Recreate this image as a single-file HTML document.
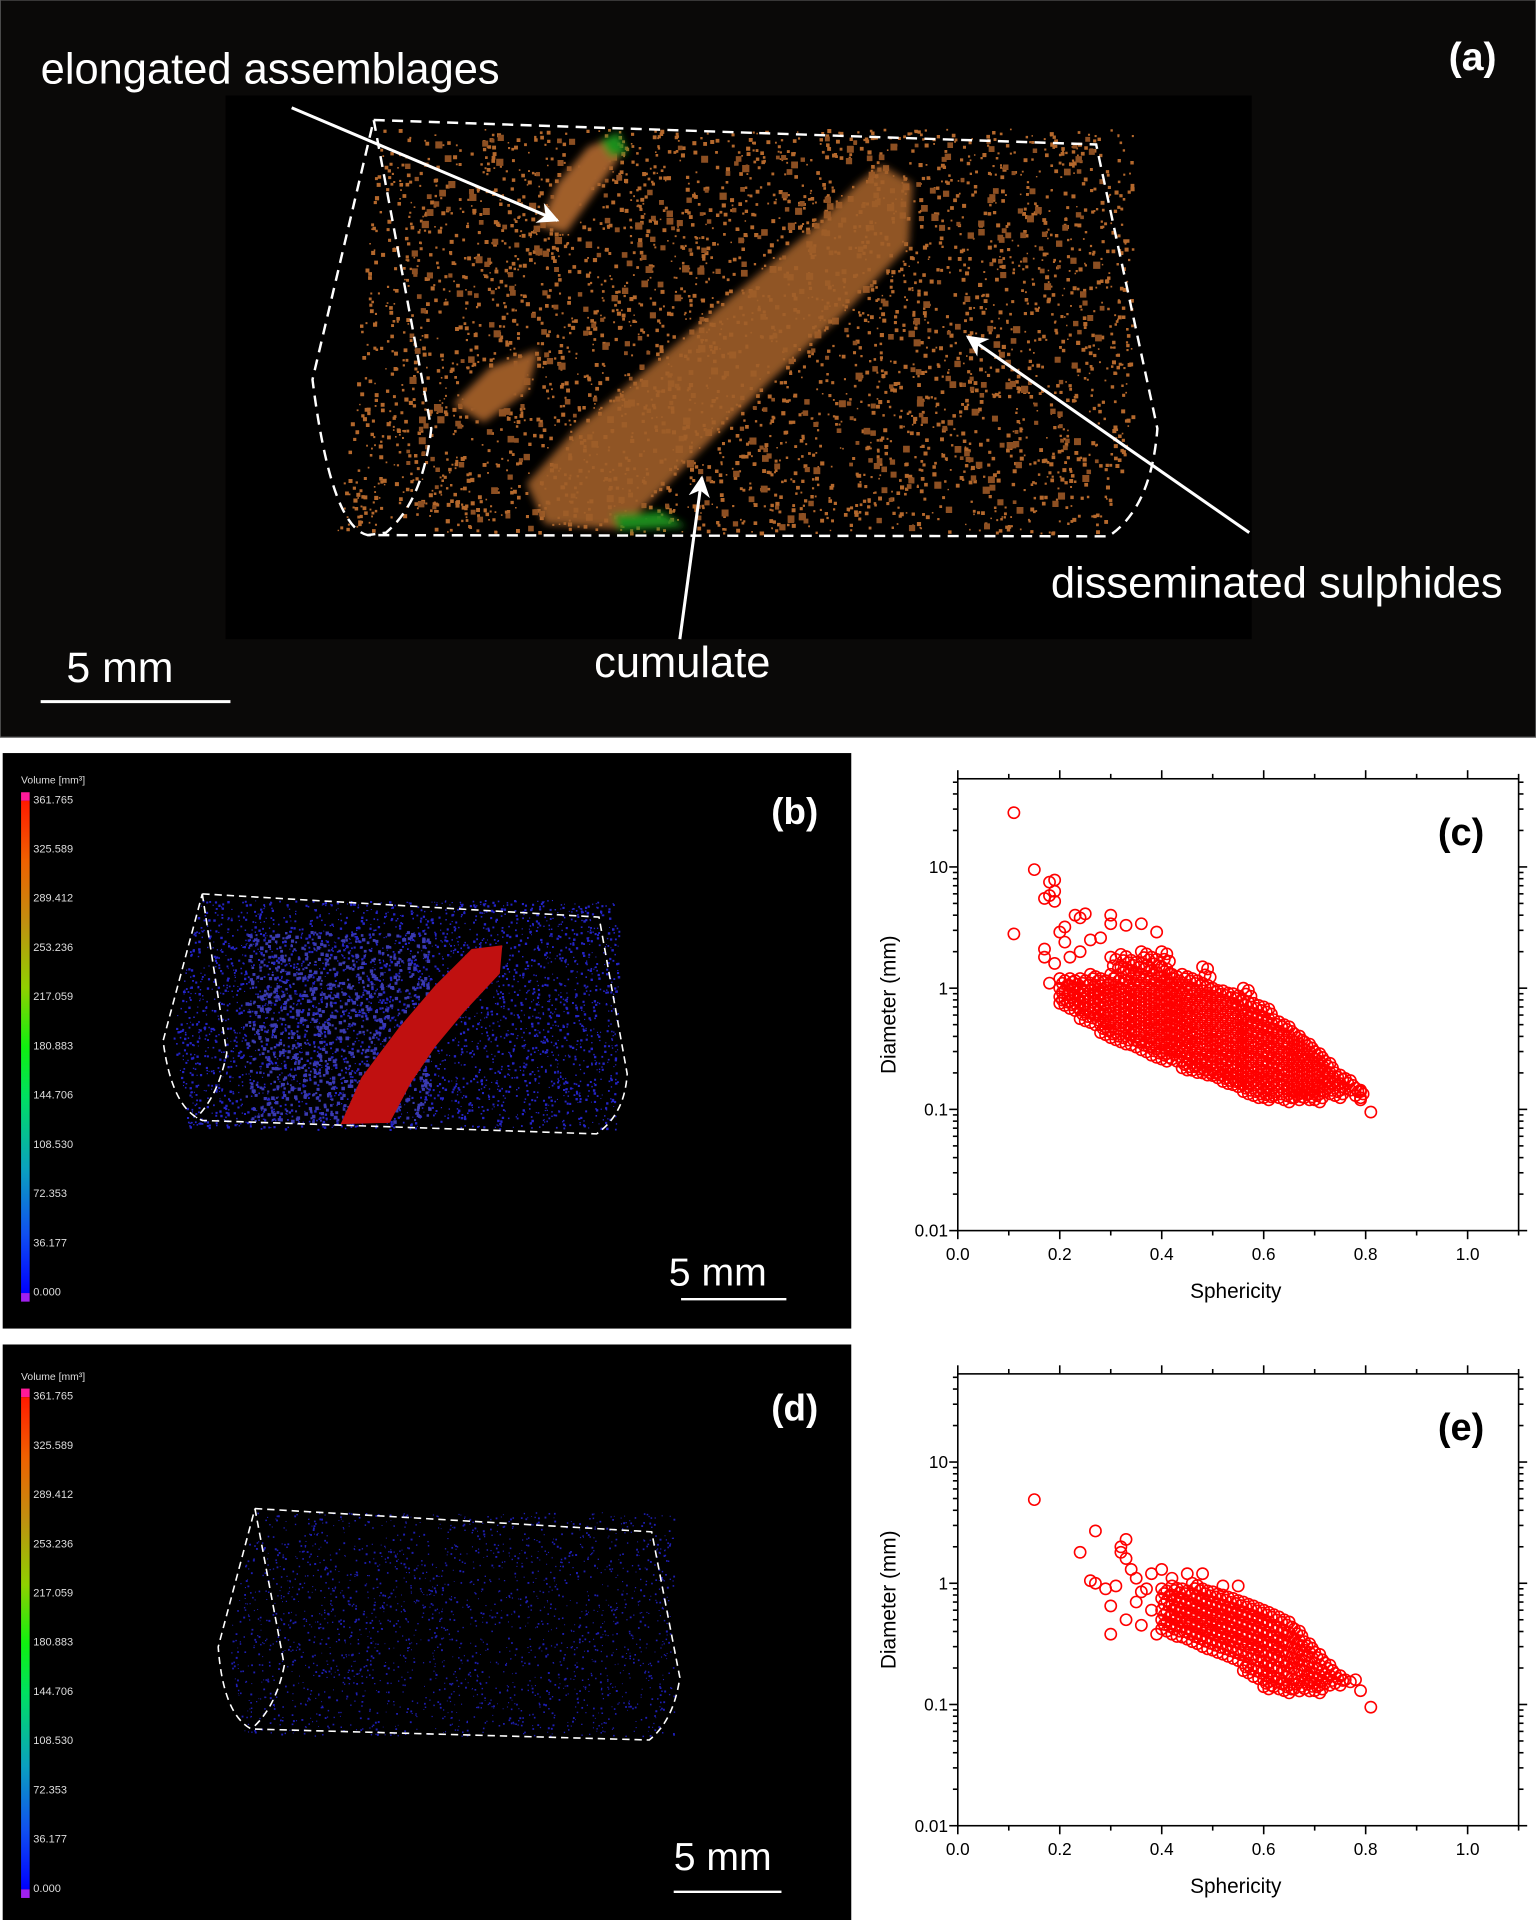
<!DOCTYPE html>
<html><head><meta charset="utf-8"><style>
html,body{margin:0;padding:0;background:#fff}
svg{display:block}
text{font-family:"Liberation Sans",Arial,sans-serif}
</style></head><body>
<svg id="fig" width="1536" height="1920" viewBox="0 0 1254 1568" xmlns="http://www.w3.org/2000/svg">
<defs>
<linearGradient id="cbar" x1="0" y1="1" x2="0" y2="0">
<stop offset="0" stop-color="#0000ff"/><stop offset="0.12" stop-color="#1050f0"/><stop offset="0.25" stop-color="#0aa0c0"/><stop offset="0.4" stop-color="#00e060"/><stop offset="0.5" stop-color="#10f010"/><stop offset="0.62" stop-color="#90d000"/><stop offset="0.75" stop-color="#c09010"/><stop offset="0.88" stop-color="#f06000"/><stop offset="1" stop-color="#ff1a00"/>
</linearGradient>
<marker id="ah" viewBox="0 0 10 10" refX="9" refY="5" markerWidth="7" markerHeight="7" orient="auto"><path d="M0,0 L10,5 L0,10 L3,5 z" fill="#fff"/></marker>
<filter id="blur1"><feGaussianBlur stdDeviation="3"/></filter>
</defs>
<g id="panelA">
<rect x="0" y="0" width="1254" height="602" fill="#0a0908" stroke="#555" stroke-width="1"/>
<rect x="184" y="78" width="838" height="444" fill="#000"/>
<g id="aDots"></g>
<g filter="url(#blur1)">
<path d="M445,428 L430,395 L470,350 L530,300 L600,240 L660,190 L700,150 L720,135 L745,150 L742,200 L690,255 L630,310 L570,370 L530,410 L505,432 Z" fill="#a05e2a" opacity="0.9"/>
<path d="M440,185 L455,150 L480,120 L500,112 L505,130 L480,165 L462,190 Z" fill="#a05e2a"/>
<path d="M370,330 L400,300 L440,285 L430,320 L395,345 Z" fill="#9a5a28"/>
<path d="M500,420 L540,418 L560,430 L505,433 Z" fill="#1a8a1a"/>
<path d="M490,115 L505,108 L512,125 L498,128 Z" fill="#1f8f1f"/>
</g>
<path fill="none" stroke="#fff" stroke-width="2" stroke-dasharray="9,6" d="M305,98 L895,118 L945,350 Q940,415 905,438 L300,437 Q270,430 255,310 L305,98 M305,98 L352,350 Q345,410 315,435 L300,437"/>
<line x1="238" y1="88" x2="455" y2="180" stroke="#fff" stroke-width="2.5" marker-end="url(#ah)"/>
<line x1="555" y1="522" x2="573" y2="390" stroke="#fff" stroke-width="2.5" marker-end="url(#ah)"/>
<line x1="1020" y1="435" x2="790" y2="275" stroke="#fff" stroke-width="2.5" marker-end="url(#ah)"/>
<text x="33" y="68" font-size="35.5" fill="#fff">elongated assemblages</text>
<text x="858" y="488" font-size="35.5" fill="#fff">disseminated sulphides</text>
<text x="485" y="553" font-size="35.5" fill="#fff">cumulate</text>
<text x="1222" y="57" font-size="32" font-weight="bold" fill="#fff" text-anchor="end">(a)</text>
<text x="54" y="557" font-size="35" fill="#fff">5 mm</text>
<line x1="33" y1="573" x2="188" y2="573" stroke="#fff" stroke-width="2.5"/>
</g>
<g id="panelB">
<rect x="2" y="615" width="693" height="470" fill="#000"/>
<g id="bDots"></g>
<path d="M278,918 L295,880 L325,840 L355,805 L385,775 L410,772 L408,795 L380,825 L355,855 L335,885 L318,917 Z" fill="#c01010"/>
<path fill="none" stroke="#fff" stroke-width="1.3" stroke-dasharray="6,4" d="M165,730 L489,749 L512,877 Q510,910 487,926 L165,915 Q140,905 133,850 L165,730 M165,730 L185,860 Q178,895 160,913"/>
<text x="668" y="673" font-size="30" font-weight="bold" fill="#fff" text-anchor="end">(b)</text>
<text x="546" y="1050" font-size="32" fill="#fff">5 mm</text>
<line x1="556" y1="1061" x2="642" y2="1061" stroke="#fff" stroke-width="2"/>
<g id="cbB"></g>
</g>
<g id="panelD">
<rect x="2" y="1098" width="693" height="470" fill="#000"/>
<g id="dDots"></g>
<path fill="none" stroke="#fff" stroke-width="1.3" stroke-dasharray="6,4" d="M208,1232 L532,1251 L555,1370 Q550,1405 530,1421 L205,1412 Q182,1400 178,1345 L208,1232 M208,1232 L232,1360 Q225,1395 205,1412"/>
<text x="668" y="1160" font-size="30" font-weight="bold" fill="#fff" text-anchor="end">(d)</text>
<text x="550" y="1527" font-size="32" fill="#fff">5 mm</text>
<line x1="550" y1="1545" x2="638" y2="1545" stroke="#fff" stroke-width="2"/>
<g id="cbD"></g>
</g>
<g id="chartC"></g>
<g id="chartE"></g>
</svg>
<script>
// ---- chart data (c) ----
var colSphericityC=[0.20,0.22,0.24,0.26,0.28,0.30,0.32,0.34,0.36,0.38,0.40,0.42,0.44,0.46,0.48,0.50,0.52,0.54,0.56,0.58,0.60,0.62,0.64,0.66,0.68,0.70,0.72,0.74,0.76,0.78];
var colDiameterC=[
[1.2,1.0,0.85,0.75],[1.2,1.05,0.9,0.78,0.68],[1.2,1.0,0.88,0.76,0.66,0.56],[1.3,1.1,0.95,0.82,0.71,0.62,0.52],
[1.2,1.05,0.9,0.78,0.68,0.59,0.5,0.43],[1.8,1.3,1.1,0.95,0.82,0.71,0.62,0.53,0.45,0.39],[1.9,1.5,1.2,1.0,0.88,0.76,0.66,0.57,0.49,0.42,0.36],
[1.7,1.4,1.2,1.0,0.86,0.74,0.64,0.55,0.47,0.41,0.34],[2.0,1.6,1.3,1.1,0.93,0.8,0.69,0.59,0.51,0.44,0.37,0.31],[1.8,1.4,1.2,1.0,0.86,0.74,0.63,0.54,0.46,0.39,0.33,0.28],
[2.0,1.5,1.25,1.05,0.9,0.77,0.66,0.56,0.48,0.41,0.35,0.3,0.26],[1.3,1.1,0.92,0.79,0.67,0.57,0.49,0.42,0.36,0.31,0.26],[1.3,1.1,0.92,0.78,0.66,0.56,0.48,0.41,0.35,0.3,0.25,0.22],
[1.2,1.0,0.86,0.73,0.62,0.53,0.45,0.39,0.33,0.28,0.24,0.21],[1.5,1.1,0.95,0.8,0.68,0.58,0.49,0.42,0.36,0.31,0.26,0.22,0.2],[1.0,0.86,0.73,0.62,0.53,0.45,0.38,0.33,0.28,0.24,0.21,0.19],
[0.95,0.8,0.68,0.58,0.49,0.42,0.36,0.31,0.26,0.22,0.19,0.17],[0.9,0.75,0.63,0.54,0.46,0.39,0.33,0.28,0.24,0.21,0.18,0.16],[1.0,0.8,0.66,0.56,0.47,0.4,0.34,0.29,0.25,0.21,0.18,0.16,0.14],
[0.75,0.62,0.52,0.44,0.37,0.32,0.27,0.23,0.2,0.17,0.15,0.13],[0.7,0.58,0.49,0.41,0.35,0.3,0.25,0.21,0.18,0.16,0.14,0.125],[0.55,0.46,0.39,0.33,0.28,0.24,0.2,0.17,0.15,0.13],
[0.5,0.42,0.36,0.3,0.26,0.22,0.19,0.16,0.14,0.12],[0.42,0.36,0.31,0.26,0.22,0.19,0.16,0.14,0.125],[0.36,0.31,0.26,0.22,0.19,0.16,0.14,0.125],
[0.3,0.26,0.22,0.19,0.16,0.14,0.12],[0.25,0.21,0.18,0.16,0.14],[0.2,0.17,0.15,0.13],[0.18,0.15],[0.15,0.13]];
var outlierSphericityC=[0.11,0.11,0.15,0.18,0.19,0.19,0.17,0.18,0.19,0.23,0.24,0.25,0.30,0.30,0.33,0.36,0.39,0.20,0.21,0.21,0.28,0.26,0.24,0.22,0.17,0.17,0.19,0.18,0.81,0.79,0.79];
var outlierDiameterC=[28,2.8,9.5,7.5,7.8,6.3,5.5,5.8,5.2,4.0,3.8,4.1,4.0,3.4,3.3,3.4,2.9,2.9,3.2,2.4,2.6,2.5,2.0,1.8,2.1,1.8,1.6,1.1,0.095,0.14,0.12];
// ---- chart data (e) ----
var colSphericityE=[0.40,0.42,0.44,0.46,0.48,0.50,0.52,0.54,0.56,0.58,0.60,0.62,0.64,0.66,0.68,0.70,0.72,0.74,0.76];
var colDiameterE=[
[0.9,0.75,0.6,0.5,0.42],[0.95,0.8,0.66,0.55,0.46,0.38],[0.9,0.75,0.62,0.52,0.44,0.36],[1.0,0.82,0.68,0.57,0.48,0.4,0.33],
[0.9,0.75,0.62,0.52,0.44,0.37,0.3],[0.85,0.7,0.58,0.49,0.41,0.34,0.28],[0.8,0.66,0.55,0.46,0.38,0.32,0.26],[0.75,0.62,0.52,0.43,0.36,0.3,0.24],
[0.7,0.58,0.48,0.4,0.33,0.28,0.22,0.19],[0.65,0.54,0.45,0.37,0.31,0.26,0.21,0.17],[0.6,0.5,0.41,0.34,0.28,0.23,0.19,0.16,0.14],[0.55,0.45,0.37,0.31,0.26,0.21,0.17,0.14],
[0.5,0.41,0.34,0.28,0.23,0.19,0.15,0.13],[0.42,0.35,0.29,0.24,0.2,0.16,0.135],[0.33,0.28,0.23,0.19,0.16,0.135],[0.27,0.22,0.18,0.15,0.13],[0.22,0.18,0.15],[0.18,0.15],[0.16]];
var outlierSphericityE=[0.15,0.24,0.27,0.26,0.27,0.29,0.30,0.30,0.32,0.32,0.33,0.33,0.34,0.35,0.36,0.31,0.35,0.37,0.38,0.38,0.36,0.40,0.42,0.45,0.48,0.52,0.55,0.78,0.79,0.81,0.33,0.39];
var outlierDiameterE=[4.9,1.8,2.7,1.05,1.0,0.9,0.65,0.38,2.0,1.8,2.3,1.6,1.3,1.1,0.85,0.95,0.7,0.9,1.2,0.6,0.45,1.3,1.1,1.2,1.2,0.95,0.95,0.16,0.13,0.095,0.5,0.38];
// ---- tick labels ----
var xTickLabels=["0.0","0.2","0.4","0.6","0.8","1.0"];
var xTickValues=[0,0.2,0.4,0.6,0.8,1.0];
var yTickLabels=["0.01","0.1","1","10"];
var yTickValues=[0.01,0.1,1,10];
var cbLabels=["361.765","325.589","289.412","253.236","217.059","180.883","144.706","108.530","72.353","36.177","0.000"];

var NS="http://www.w3.org/2000/svg";
function mk(tag,attrs,parent){var e=document.createElementNS(NS,tag);for(var k in attrs)e.setAttribute(k,attrs[k]);if(parent)parent.appendChild(e);return e;}

function drawChart(gid,top,label,colS,colD,outS,outD){
  var g=document.getElementById(gid);
  var L=782,R=1240,B=top+369,T=top,xmax=1.1,ymin=-2,decade=99;
  var ymaxLog=ymin+(B-T)/decade;
  function X(v){return L+(v/xmax)*(R-L);}
  function Y(v){return B-(Math.log10(v)-ymin)*decade;}
  mk('rect',{x:L,y:T,width:R-L,height:B-T,fill:'#fff'},g);
  var pts=mk('g',{},g);
  
  
  function pt(s,d){var c=mk('circle',{cx:X(s).toFixed(1),cy:Y(d).toFixed(1),r:4.6,fill:'none',stroke:'#ff0000','stroke-width':1.3},pts);
    
    }
  for(var i=0;i<colS.length;i++){for(var j=0;j<colD[i].length;j++){var d=colD[i][j];pt(colS[i],d);pt(colS[i]+0.01,d*0.96);
      if(j<colD[i].length-1){var m=Math.sqrt(d*colD[i][j+1]);pt(colS[i]+0.005,m);pt(colS[i]+0.015,m*0.96);}}}
  for(var k=0;k<outS.length;k++)pt(outS[k],outD[k]);
  var ax=mk('g',{stroke:'#000','stroke-width':1.3,fill:'none'},g);
  
  
  mk('rect',{x:L,y:T,width:R-L,height:B-T},ax);
  for(var t=0;t<=11;t++){var v=t/10,x=X(v),len=(t%2==0)?7:4;
    mk('line',{x1:x,y1:B,x2:x,y2:B+len},ax);mk('line',{x1:x,y1:T,x2:x,y2:T-len},ax);}
  for(var p=-2;p<Math.ceil(ymaxLog);p++){for(var m=1;m<10;m++){var val=m*Math.pow(10,p);if(Math.log10(val)>ymaxLog)break;var y=Y(val),len2=(m==1)?7:4;
    mk('line',{x1:L,y1:y,x2:L-len2,y2:y},ax);mk('line',{x1:R,y1:y,x2:R+len2,y2:y},ax);}}
  for(var a=0;a<xTickValues.length;a++){var tx=mk('text',{x:X(xTickValues[a]),y:B+24,'font-size':14,'text-anchor':'middle',fill:'#000'},g);tx.textContent=xTickLabels[a];
    
    }
  for(var b=0;b<yTickValues.length;b++){var ty=mk('text',{x:L-8,y:Y(yTickValues[b])+5,'font-size':14,'text-anchor':'end',fill:'#000'},g);ty.textContent=yTickLabels[b];
    
    }
  var xt=mk('text',{x:1009,y:B+55,'font-size':17,'text-anchor':'middle',fill:'#000'},g);xt.textContent='Sphericity';
  
  
  var cy=(T+B)/2;
  var yt=mk('text',{x:731,y:cy,'font-size':17,'text-anchor':'middle',fill:'#000',transform:'rotate(-90 731 '+cy+')'},g);yt.textContent='Diameter (mm)';
  
  
  var pl=mk('text',{x:1193,y:T+54,'font-size':31,'font-weight':'bold','text-anchor':'middle',fill:'#000'},g);pl.textContent=label;
  
  
}
drawChart('chartC',636,'(c)',colSphericityC,colDiameterC,outlierSphericityC,outlierDiameterC);
drawChart('chartE',1122,'(e)',colSphericityE,colDiameterE,outlierSphericityE,outlierDiameterE);

function drawColorbar(gid,off){
  var g=document.getElementById(gid);
  var t=mk('text',{x:17,y:640+off,'font-size':8.5,fill:'#ddd'},g);t.textContent='Volume [mm³]';
  
  
  mk('rect',{x:17,y:647+off,width:7,height:7,fill:'#ff1a9a'},g);
  mk('rect',{x:17,y:654+off,width:7,height:402,fill:'url(#cbar)'},g);
  mk('rect',{x:17,y:1056+off,width:7,height:7,fill:'#a020f0'},g);
  for(var i=0;i<cbLabels.length;i++){var l=mk('text',{x:27,y:656+off+i*40.2,'font-size':9,fill:'#ddd'},g);l.textContent=cbLabels[i];
    
    }
}
drawColorbar('cbB',0);drawColorbar('cbD',487);

// decorative texture (seeded)
var seed=12345;function rnd(){seed=(seed*1103515245+12345)%2147483648;return seed/2147483648;}
function dots(gid,n,x0,x1,y0,y1,color,smin,smax,inside){
  var d='';for(var i=0;i<n;i++){var x=x0+rnd()*(x1-x0),y=y0+rnd()*(y1-y0);if(inside&&!inside(x,y))continue;var s=smin+rnd()*(smax-smin);
    d+='M'+x.toFixed(1)+','+y.toFixed(1)+'h'+s.toFixed(1)+'v'+s.toFixed(1)+'h-'+s.toFixed(1)+'z';}
  var p=mk('path',{d:d,fill:color},document.getElementById(gid));
  
  
}
dots('aDots',3500,275,930,105,435,'#b4682c',1.2,3.4,function(x,y){return x>275+(435-y)*0.1&&x<925-Math.max(0,y-350)*0.3;});
dots('aDots',500,330,900,110,430,'#8c4f22',3,6,null);
dots('bDots',4000,140,510,735,922,'#2424c8',0.8,2,function(x,y){return x>140+Math.abs(y-850)*0.2&&x<505;});
dots('bDots',900,200,350,760,915,'#3a3ab0',1.5,3,null);
dots('dDots',2200,185,550,1235,1418,'#1e1eb4',0.7,1.6,function(x,y){return x>185+Math.abs(y-1345)*0.2;});
</script>
</body></html>
